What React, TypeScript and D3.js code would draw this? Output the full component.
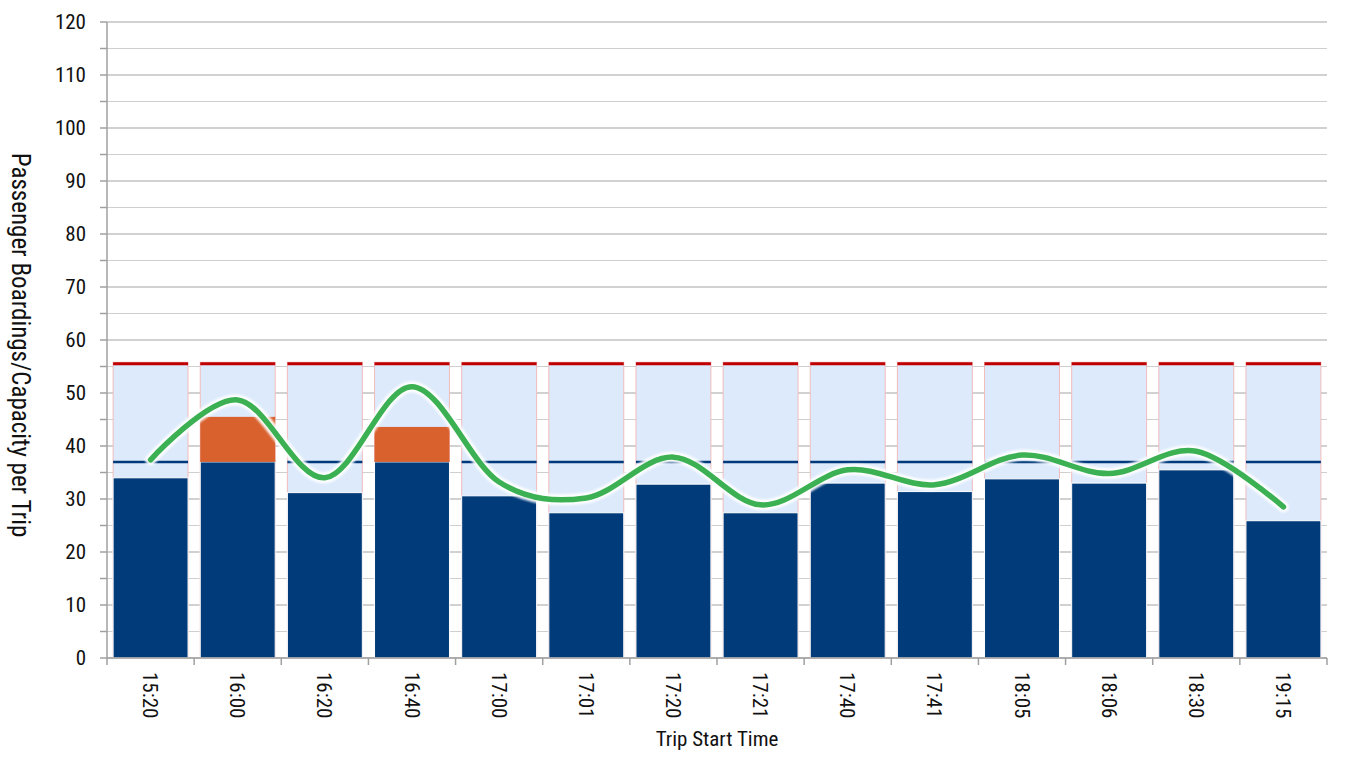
import React from "react";
import * as d3 from "d3";

const tripTimes = ["15:20", "16:00", "16:20", "16:40", "17:00", "17:01", "17:20", "17:21", "17:40", "17:41", "18:05", "18:06", "18:30", "19:15"];
const seatedBoardings = [34.0, 37.0, 31.2, 37.0, 30.6, 27.4, 32.8, 27.4, 33.0, 31.4, 33.8, 33.0, 35.5, 25.9];
const standingBoardings = [0, 8.5, 0, 6.6, 0, 0, 0, 0, 0, 0, 0, 0, 0, 0];
const totalCapacity = [55.8, 55.8, 55.8, 55.8, 55.8, 55.8, 55.8, 55.8, 55.8, 55.8, 55.8, 55.8, 55.8, 55.8];
const seatedCapacity = [37, 37, 37, 37, 37, 37, 37, 37, 37, 37, 37, 37, 37, 37];
const trendLine = [37.4, 48.7, 34.0, 51.2, 33.2, 30.2, 37.9, 28.9, 35.5, 32.7, 38.3, 34.8, 39.0, 28.5];
const yTicks = [0, 10, 20, 30, 40, 50, 60, 70, 80, 90, 100, 110, 120];
const yMinorTicks = d3.range(0, 121, 5);

const W = 1348;
const H = 762;
const left = 107;
const right = 1327;
const top = 22;
const bottom = 658;
const FONT = "'Liberation Sans Narrow', 'Arial Narrow', 'Roboto Condensed', Arial, sans-serif";

export default function App() {
  const x = d3.scaleBand<string>().domain(tripTimes).range([left, right]).paddingInner(0.14).paddingOuter(0.07);
  const y = d3.scaleLinear().domain([0, 120]).range([bottom, top]);
  const step = x.step();
  const bw = x.bandwidth();

  const line = d3
    .line<number>()
    .x((_, i) => (x(tripTimes[i]) as number) + bw / 2)
    .y((d) => y(d))
    .curve(d3.curveCardinal.tension(0));
  const path = line(trendLine) || "";

  return (
    <svg width={W} height={H} style={{ position: "absolute", left: 0, top: 0, background: "#fff" }} fontFamily={FONT}>
      <defs>
        <filter id="glow" x="-5%" y="-20%" width="110%" height="140%">
          <feGaussianBlur stdDeviation="1.2" />
        </filter>
      </defs>
      {/* gridlines */}
      {yMinorTicks.map((t) => (
        <line key={"g" + t} x1={left} x2={right} y1={y(t)} y2={y(t)} stroke={t % 10 === 0 ? "#a3a3a3" : "#cfcfcf"} strokeWidth={1} />
      ))}
      {/* capacity bars */}
      {tripTimes.map((c, i) => (
        <rect key={"cap" + c} x={x(c)} y={y(totalCapacity[i])} width={bw} height={y(0) - y(totalCapacity[i])} fill="#dceafc" stroke="#f2bcbc" strokeWidth={1} />
      ))}
      {tripTimes.map((c, i) => (
        <line key={"red" + c} x1={x(c)} x2={(x(c) as number) + bw} y1={y(totalCapacity[i]) + 1.5} y2={y(totalCapacity[i]) + 1.5} stroke="#c00000" strokeWidth={3} />
      ))}
      {tripTimes.map((c, i) => (
        <line key={"seat" + c} x1={x(c)} x2={(x(c) as number) + bw} y1={y(seatedCapacity[i])} y2={y(seatedCapacity[i])} stroke="#003a7a" strokeWidth={2.5} />
      ))}
      {/* boardings */}
      {tripTimes.map((c, i) => (
        <rect key={"sb" + c} x={x(c)} y={y(seatedBoardings[i])} width={bw} height={y(0) - y(seatedBoardings[i])} fill="#013b7a" stroke="#ffffff" strokeWidth={1} />
      ))}
      {tripTimes.map((c, i) =>
        standingBoardings[i] > 0 ? (
          <rect key={"st" + c} x={x(c)} y={y(seatedBoardings[i] + standingBoardings[i])} width={bw} height={y(seatedBoardings[i]) - y(seatedBoardings[i] + standingBoardings[i])} fill="#d9612e" />
        ) : null
      )}
      {/* trend line */}
      <path d={path} fill="none" stroke="#ffffff" strokeOpacity={0.95} strokeWidth={11} strokeLinecap="round" strokeLinejoin="round" filter="url(#glow)" />
      <path d={path} fill="none" stroke="#3cb153" strokeWidth={5.5} strokeLinecap="round" strokeLinejoin="round" />
      {/* y axis */}
      <line x1={left} x2={left} y1={top} y2={bottom} stroke="#a0a0a0" strokeWidth={1.5} />
      {yMinorTicks.map((t) => (
        <line key={"yt" + t} x1={left - 7} x2={left} y1={y(t)} y2={y(t)} stroke="#a0a0a0" strokeWidth={1.5} />
      ))}
      {yTicks.map((t) => (
        <text key={"yl" + t} x={86} y={y(t)} dy="0.35em" textAnchor="end" fontSize={21} fill="#111">
          {t}
        </text>
      ))}
      {/* x axis */}
      <line x1={left} x2={right} y1={bottom} y2={bottom} stroke="#a0a0a0" strokeWidth={1.5} />
      {d3.range(tripTimes.length + 1).map((k) => (
        <line key={"xt" + k} x1={left + k * step} x2={left + k * step} y1={bottom} y2={bottom + 7} stroke="#a0a0a0" strokeWidth={1.5} />
      ))}
      {tripTimes.map((c) => (
        <text key={"xl" + c} transform={`translate(${(x(c) as number) + bw / 2},672) rotate(90)`} dy="0.35em" textAnchor="start" fontSize={21} fill="#111">
          {c}
        </text>
      ))}
      <text x={(left + right) / 2} y={746} textAnchor="middle" fontSize={21} fill="#111">
        Trip Start Time
      </text>
      <text transform={`translate(12,345) rotate(90)`} textAnchor="middle" fontSize={25} fill="#111">
        Passenger Boardings/Capacity per Trip
      </text>
    </svg>
  );
}
